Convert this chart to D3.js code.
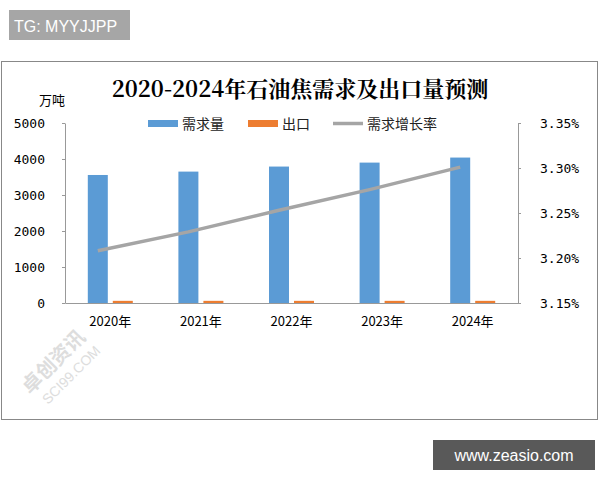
<!DOCTYPE html>
<html><head><meta charset="utf-8">
<script src="https://cdn.jsdelivr.net/npm/d3@7"></script>
<style>body{margin:0;background:#fff}</style>
</head><body><svg id="chart" width="600" height="480"></svg>
<script>
const years = ['2020年', '2021年', '2022年', '2023年', '2024年'];
const demand = [3556, 3650, 3790, 3900, 4040];
const exportVals = [60, 60, 60, 60, 60];
const growthRate = [3.208, 3.229, 3.253, 3.276, 3.301];
const leftTicks = [0, 1000, 2000, 3000, 4000, 5000];
const rightTicks = [3.15, 3.20, 3.25, 3.30, 3.35];

const svg = d3.select('#chart');
const cjk = '"Noto Sans CJK SC", sans-serif';

// badge top-left
svg.append('rect').attr('x', 9).attr('y', 10).attr('width', 121).attr('height', 30).attr('fill', '#a6a6a6');
svg.append('text').attr('x', 14).attr('y', 32).attr('fill', '#fff')
    .attr('font-family', 'Liberation Sans, sans-serif').attr('font-size', 16).text('TG: MYYJJPP');

// frame
svg.append('rect').attr('x', 1.5).attr('y', 61.5).attr('width', 596).attr('height', 358)
    .attr('fill', '#fff').attr('stroke', '#888');

// title
svg.append('text').attr('x', 300).attr('y', 97).attr('text-anchor', 'middle')
    .attr('font-family', '"Noto Serif CJK SC", "DejaVu Serif", serif').attr('font-weight', 'bold')
    .attr('font-size', 22).text('2020-2024年石油焦需求及出口量预测');
svg.append('text').attr('x', 52).attr('y', 105).attr('text-anchor', 'middle')
    .attr('font-family', cjk).attr('font-size', 13).text('万吨');

const x = d3.scaleBand().domain(years).range([65, 518]);
const yL = d3.scaleLinear().domain([0, 5000]).range([303, 123]);
const yR = d3.scaleLinear().domain([3.15, 3.35]).range([303, 123]);

// axes
const axL = svg.append('g').attr('transform', 'translate(65,0)')
    .call(d3.axisLeft(yL).tickValues(leftTicks).tickSize(3).tickSizeOuter(0).tickFormat(d3.format('d')));
const axR = svg.append('g').attr('transform', 'translate(518,0)')
    .call(d3.axisRight(yR).tickValues(rightTicks).tickSize(3).tickSizeOuter(0).tickFormat(d => d.toFixed(2) + '%'));
const axB = svg.append('g').attr('transform', 'translate(0,303)')
    .call(d3.axisBottom(x).tickSize(0).tickPadding(14));
[axL, axR, axB].forEach(a => {
    a.selectAll('path,line').attr('stroke', '#999');
    a.selectAll('text').attr('font-family', 'DejaVu Sans Mono, monospace').attr('font-size', 13).attr('fill', '#000');
});
axL.selectAll('text').attr('dx', -14);
axR.selectAll('text').attr('dx', 16);
axB.selectAll('text').attr('font-family', cjk);

// bars
const bw = 20;
svg.append('g').selectAll('rect').data(demand).enter().append('rect')
    .attr('x', (d, i) => x(years[i]) + x.bandwidth() / 2 - bw - 2.5)
    .attr('y', d => yL(d)).attr('width', bw).attr('height', d => yL(0) - yL(d)).attr('fill', '#5b9bd5');
svg.append('g').selectAll('rect').data(exportVals).enter().append('rect')
    .attr('x', (d, i) => x(years[i]) + x.bandwidth() / 2 + 2.5)
    .attr('y', d => yL(d)).attr('width', bw).attr('height', d => yL(0) - yL(d)).attr('fill', '#ed7d31');

// line
const line = d3.line().x((d, i) => x(years[i]) + x.bandwidth() / 2 - bw / 2 - 2.5).y(d => yR(d));
svg.append('path').datum(growthRate).attr('d', line).attr('fill', 'none')
    .attr('stroke', '#a5a5a5').attr('stroke-width', 3.5);

// legend
const legend = [
    {name: '需求量', color: '#5b9bd5', type: 'rect', x: 148},
    {name: '出口', color: '#ed7d31', type: 'rect', x: 248},
    {name: '需求增长率', color: '#a5a5a5', type: 'line', x: 333}
];
const lg = svg.append('g').selectAll('g').data(legend).enter().append('g');
lg.filter(d => d.type === 'rect').append('rect').attr('x', d => d.x).attr('y', 120)
    .attr('width', 30).attr('height', 7).attr('fill', d => d.color);
lg.filter(d => d.type === 'line').append('line').attr('x1', d => d.x).attr('x2', d => d.x + 30)
    .attr('y1', 123.5).attr('y2', 123.5).attr('stroke', d => d.color).attr('stroke-width', 3.5);
lg.append('text').attr('x', d => d.x + 34).attr('y', 129).attr('font-family', cjk)
    .attr('font-size', 14).attr('fill', '#222').text(d => d.name);

// watermark
svg.append('text').attr('transform', 'translate(30,395) rotate(-45)').attr('font-family', cjk)
    .attr('font-size', 20).attr('fill', '#ddd').attr('font-weight', 'bold').text('卓创资讯');
svg.append('text').attr('transform', 'translate(48,405) rotate(-45)').attr('font-family', 'Liberation Sans, sans-serif')
    .attr('font-size', 14).attr('fill', '#ddd').text('SCI99.COM');

// site badge
svg.append('rect').attr('x', 433).attr('y', 440).attr('width', 162).attr('height', 30).attr('fill', '#595959');
svg.append('text').attr('x', 514).attr('y', 461).attr('text-anchor', 'middle').attr('fill', '#fff')
    .attr('font-family', 'Liberation Sans, sans-serif').attr('font-size', 16).text('www.zeasio.com');
</script></body></html>
